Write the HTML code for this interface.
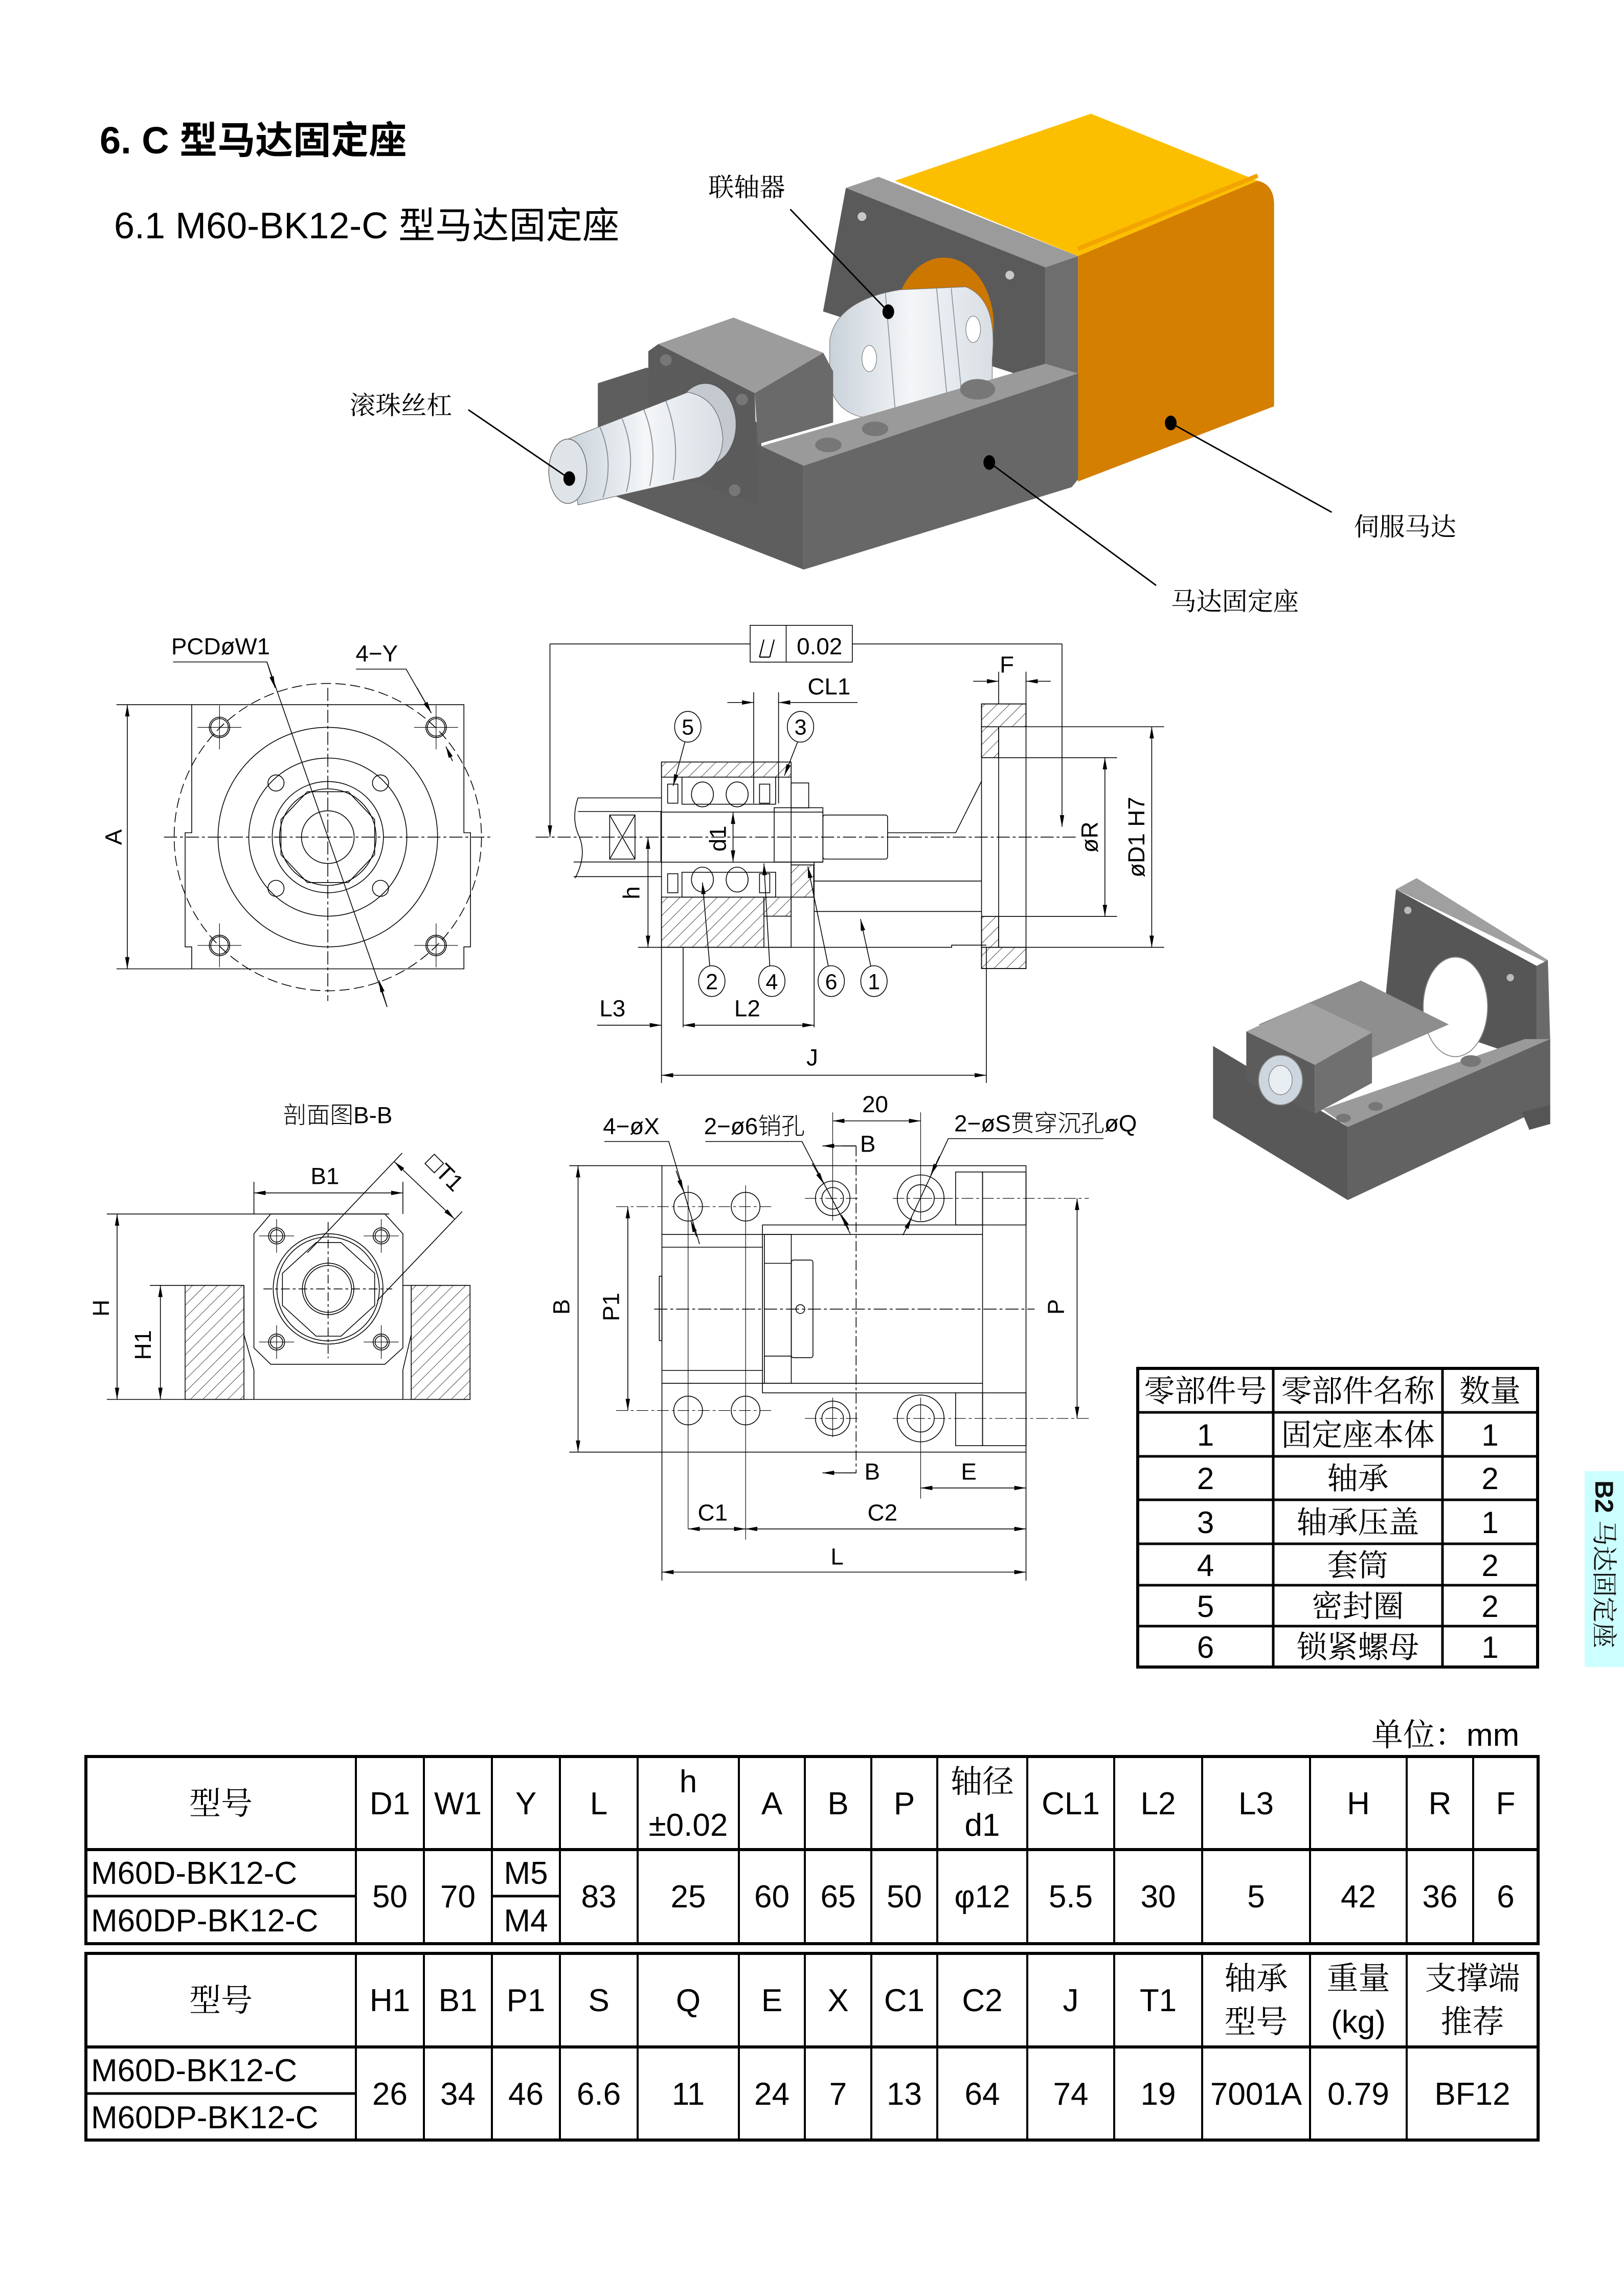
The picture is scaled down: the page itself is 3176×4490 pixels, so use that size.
<!DOCTYPE html>
<html><head><meta charset="utf-8"><style>
html,body{margin:0;padding:0;background:#fff}
svg{display:block}
.t{font-family:"Liberation Sans","Noto Sans CJK SC",sans-serif}
.c{font-family:"Liberation Sans","Noto Serif CJK SC",serif}
.d{font-family:"Liberation Sans Narrow","Liberation Sans","Noto Sans CJK SC",sans-serif;font-weight:300}
</style></head><body>
<svg width="3176" height="4490" viewBox="0 0 3176 4490" xmlns="http://www.w3.org/2000/svg">
<defs>
<marker id="a" markerWidth="8" markerHeight="3" refX="8" refY="1.5" orient="auto-start-reverse" markerUnits="userSpaceOnUse"><path d="M0,0 L8,1.5 L0,3 z" fill="#000"/></marker>
<pattern id="h" width="6" height="6" patternUnits="userSpaceOnUse" patternTransform="rotate(45)"><line x1="0" y1="0" x2="0" y2="6" stroke="#000" stroke-width="0.5"/></pattern>
<linearGradient id="sil" x1="0" y1="0" x2="1" y2="0"><stop offset="0" stop-color="#c9d2da"/><stop offset="0.5" stop-color="#f4f6f8"/><stop offset="1" stop-color="#d8dee4"/></linearGradient>
</defs>

<!-- Titles -->
<text x="195" y="300" class="t" font-size="74" font-weight="bold">6. C 型马达固定座</text>
<text x="223" y="466" class="t" font-size="72">6.1 M60-BK12-C 型马达固定座</text>

<g transform="scale(2.862)">
<!-- ===== Top 3D assembly ===== -->
<polygon points="611.5,123.5 745.5,77.7 859.4,123.5 736.6,175" fill="#fcbf00"/>
<path d="M736.6,175 L859.4,123.5 Q870.6,126 870.6,140 L870.6,277.6 L736.6,329 Z" fill="#d47f00"/>
<path d="M736.6,170 L859.4,120" stroke="#f2a400" stroke-width="3" fill="none"/>
<polygon points="578,128.4 600.4,120.8 736.6,175 714.3,182.7" fill="#9b9b9b"/>
<polygon points="714.3,182.7 736.6,175 736.6,258 714.3,262" fill="#6e6e6e"/>
<polygon points="578,128.4 714.3,182.7 714.3,262 562.4,212.8" fill="#5a5a5a"/>
<ellipse cx="645" cy="222" rx="34" ry="46" fill="#cc7700"/>
<circle cx="589" cy="148" r="3" fill="#c8c8c8"/><circle cx="690" cy="188" r="3" fill="#c8c8c8"/>
<path d="M567,232 Q572,205 615,198 L660,196 Q682,205 678,245 L678,272 L612,286 Q572,290 567,262 Z" fill="url(#sil)" stroke="#777" stroke-width="0.4"/>
<path d="M605,200 L612,284 M640,197 L648,280 M650,197 L658,278" stroke="#8a959e" stroke-width="0.6" fill="none"/>
<ellipse cx="594" cy="245" rx="5" ry="9" fill="#fff" stroke="#777" stroke-width="0.4"/>
<ellipse cx="665" cy="225" rx="5" ry="9" fill="#fff" stroke="#777" stroke-width="0.4"/>
<!-- base -->
<polygon points="408.5,261.9 442,251.2 520.2,290 520.2,304.8 549.2,318.2 549.2,389.2 421.9,339.6 408.5,334.2" fill="#5e5e5e"/>
<polygon points="520.2,304.8 714.4,248.5 736.7,255.2 549.2,318.2" fill="#9a9a9a"/>
<polygon points="549.2,318.2 736.7,255.2 736.7,327.5 732.3,332.9 549.2,389.2" fill="#676767"/>
<ellipse cx="566" cy="304" rx="9" ry="5" fill="#777"/><ellipse cx="598" cy="293" rx="9" ry="5" fill="#777"/><ellipse cx="668" cy="266" rx="12" ry="7" fill="#777"/>
<!-- support block -->
<polygon points="449.8,235.1 501.2,217 562.6,241.1 515.7,268.6" fill="#9c9c9c"/>
<polygon points="515.7,268.6 562.6,241.1 569.3,253.8 569.3,288.7 518,303.4" fill="#6a6a6a"/>
<polygon points="443,240 449.8,235.1 515.7,268.6 518,345 443,318" fill="#5b5b5b"/>
<circle cx="455" cy="246" r="4" fill="#777"/><circle cx="507" cy="273" r="4" fill="#777"/><circle cx="502" cy="335" r="4" fill="#777"/>
<ellipse cx="482" cy="290" rx="21" ry="28" fill="#c3c9cf" stroke="#555" stroke-width="0.5"/>
<!-- screw -->
<path d="M388,300 L470,268 Q492,272 494,300 Q493,318 478,326 L395,345 Z" fill="url(#sil)" stroke="#666" stroke-width="0.4"/>
<path d="M410,292 Q420,315 412,340 M425,286 Q435,310 428,336 M440,280 Q450,305 444,332 M455,274 Q465,300 460,328" stroke="#8a959e" stroke-width="0.7" fill="none"/>
<ellipse cx="388" cy="322" rx="13" ry="22" fill="#dfe4e8" stroke="#666" stroke-width="0.5"/>
<!-- leaders -->
<g stroke="#000" stroke-width="1" fill="none">
<line x1="540" y1="143" x2="607" y2="213"/><line x1="320" y1="280" x2="389" y2="327"/>
<line x1="800" y1="289" x2="910" y2="350"/><line x1="676" y1="316" x2="790" y2="400"/>
</g>
<g fill="#000"><ellipse cx="607" cy="213" rx="4" ry="5"/><ellipse cx="389" cy="327" rx="4" ry="5"/><ellipse cx="800" cy="289" rx="4" ry="5"/><ellipse cx="676" cy="316" rx="4" ry="5"/></g>
<g class="c" font-size="17.5">
<text x="484" y="134">联轴器</text><text x="239" y="283">滚珠丝杠</text>
<text x="925" y="366">伺服马达</text><text x="800" y="417">马达固定座</text>
</g>

<!-- ===== small 3D ===== -->
<polygon points="953.9,607.7 968,600 1057.7,656 1057,657.8" fill="#a0a0a0"/>
<polygon points="1050,660 1057.7,656 1059.3,712 1050,716" fill="#6a6a6a"/>
<polygon points="953.9,607.7 1050,660 1050,716 1033.5,720 975,700 945,700" fill="#565656"/>
<ellipse cx="994.5" cy="688" rx="22" ry="34" fill="#fff" stroke="#888" stroke-width="0.6"/>
<circle cx="962" cy="622" r="2.5" fill="#bbb"/><circle cx="1032" cy="668" r="2.5" fill="#bbb"/>
<polygon points="860,700 930,670 990,700 921,730" fill="#8e8e8e"/>
<polygon points="903.9,758 1042,710 1059.3,710 921,770" fill="#9a9a9a"/>
<polygon points="828.9,714.7 921,770 921,820 828.9,764" fill="#585858"/>
<polygon points="921,770 1059.3,710 1059.3,755 921,820" fill="#626262"/>
<polygon points="1040,760 1059.3,755 1059.3,768 1045,772" fill="#555"/>
<polygon points="851.6,704.8 894.5,685 937.5,705.6 898.4,727.6" fill="#a2a2a2"/>
<polygon points="898.4,727.6 937.5,705.6 937.5,740 898.4,761" fill="#707070"/>
<polygon points="851.6,704.8 898.4,727.6 898.4,761 851.6,739" fill="#5c5c5c"/>
<ellipse cx="875" cy="738" rx="15" ry="17" fill="#cdd6de" stroke="#888" stroke-width="0.6"/>
<ellipse cx="875" cy="738" rx="8" ry="10" fill="#e8eef2" stroke="#888" stroke-width="0.5"/>
<ellipse cx="918" cy="764" rx="5" ry="3" fill="#777"/><ellipse cx="940" cy="756" rx="5" ry="3" fill="#777"/><ellipse cx="1005" cy="725" rx="7" ry="4" fill="#777"/>

<!-- ===== Drawings ===== -->
<g stroke="#000" stroke-width="0.55" fill="none">
<!-- front view -->
<path d="M131,481.5 H317 V569 H321.5 V647 H317 V662 H131 V647 H126.5 V569 H131 Z"/>
<line x1="112" y1="572" x2="336" y2="572" stroke-dasharray="9,2,2,2"/>
<line x1="224" y1="470" x2="224" y2="684" stroke-dasharray="9,2,2,2"/>
<circle cx="224" cy="572" r="105" stroke-dasharray="7,3"/>
<circle cx="224" cy="572" r="75"/><circle cx="224" cy="572" r="54"/>
<circle cx="224" cy="572" r="38"/><circle cx="224" cy="572" r="33"/>
<polygon points="210,541 238,541 256,560 256,584 238,603 210,603 192,584 192,560"/>
<circle cx="224" cy="572" r="18"/>
<circle cx="188.6" cy="535" r="5.5"/><circle cx="260" cy="535" r="5.5"/><circle cx="188.6" cy="607" r="5.5"/><circle cx="260" cy="607" r="5.5"/>
<g id="hl"><circle cx="150" cy="497" r="7"/><circle cx="150" cy="497" r="6"/><path d="M135,497 H165 M150,482 V512" stroke-width="0.4"/></g>
<use href="#hl" x="148"/><use href="#hl" y="149"/><use href="#hl" x="148" y="149"/>
<path d="M79.6,481.5 H131 M79.6,662 H131"/>
<line x1="87" y1="481.5" x2="87" y2="662" marker-start="url(#a)" marker-end="url(#a)"/>
<path d="M118.3,452.3 H182.4 L264.5,688"/>
<line x1="182.4" y1="452.3" x2="188" y2="470" marker-end="url(#a)"/>
<line x1="264.5" y1="688" x2="259" y2="670" marker-end="url(#a)"/>
<path d="M243.3,457.2 H277.5 L294.7,487.2"/>
<line x1="285" y1="470" x2="294.7" y2="487.2" marker-end="url(#a)"/>
<line x1="309.2" y1="520" x2="304.7" y2="510" marker-end="url(#a)"/>

<!-- section view -->
<rect x="512.6" y="427.3" width="69.8" height="25.1"/><line x1="537.2" y1="427.3" x2="537.2" y2="452.4"/>
<path d="M519,449 L522,437 M526,449 L529,437 M519,449 H526" stroke-width="0.8"/>
<path d="M512.6,440 H375.8"/><line x1="375.8" y1="440" x2="375.8" y2="572" marker-end="url(#a)"/>
<path d="M582.4,440 H725.7"/><line x1="725.7" y1="440" x2="725.7" y2="565" marker-end="url(#a)"/>
<line x1="366" y1="572" x2="736" y2="572" stroke-dasharray="9,2,2,2"/>
<rect x="670.7" y="481" width="30.4" height="180.8"/>
<line x1="682.4" y1="496.6" x2="682.4" y2="647.3"/>
<path d="M682.4,496.6 H795.5 M670.7,517.7 H763.3 M670.7,626.2 H763.3 M682.4,647.3 H795.5"/>
<rect x="670.7" y="481" width="30.4" height="15.6" fill="url(#h)"/>
<rect x="670.7" y="496.6" width="11.7" height="21.1" fill="url(#h)"/>
<rect x="670.7" y="626.2" width="11.7" height="21.1" fill="url(#h)"/>
<rect x="670.7" y="647.3" width="30.4" height="14.5" fill="url(#h)"/>
<rect x="452" y="520.7" width="88.6" height="10.3" fill="url(#h)"/>
<rect x="452" y="613" width="70" height="34.3" fill="url(#h)"/>
<rect x="522" y="613" width="18.6" height="13" fill="url(#h)"/>
<rect x="452" y="520.7" width="88.6" height="126.6"/>
<rect x="466" y="531" width="64" height="18.5"/><rect x="466" y="596" width="64" height="17"/>
<ellipse cx="480" cy="542.8" rx="7.5" ry="8.5"/><ellipse cx="503.7" cy="542.8" rx="7.5" ry="8.5"/>
<ellipse cx="480" cy="601" rx="7.5" ry="8.5"/><ellipse cx="503.7" cy="601" rx="7.5" ry="8.5"/>
<rect x="456.2" y="535.8" width="7" height="13"/><rect x="456.2" y="597" width="7" height="13"/>
<rect x="519" y="535.8" width="7" height="13"/><rect x="519" y="597" width="7" height="13"/>
<rect x="540.6" y="535" width="12" height="17"/>
<rect x="451.6" y="554.9" width="110.7" height="34.2"/>
<rect x="529" y="551.9" width="33.3" height="37.1"/>
<path d="M540.6,591 H556 V613 H540.6 Z" fill="url(#h)"/>
<rect x="562.3" y="556.9" width="44.2" height="30.1" rx="1.5"/>
<path d="M395,545.2 H452 M395,554.5 H452 M392,589 H452 M392,599 H452" />
<path d="M395,545 Q390,560 396,572 Q401,585 393,600"/>
<rect x="416.6" y="556.9" width="17.3" height="30.1"/><path d="M416.6,556.9 L433.9,587 M433.9,556.9 L416.6,587"/>
<path d="M606.5,569 H653 L670.7,533.8"/>
<path d="M556.3,602 H670.7 M556.3,622.8 H670.7"/>
<path d="M436,647.3 H650.3 V645.8 H674"/>
<path d="M452,647.3 V740 M466.8,647.3 V702 M556.3,589 V702 M674,647.3 V740"/>
<path d="M515,473 V549 M532,473 V549"/>
<line x1="497" y1="480" x2="515" y2="480" marker-end="url(#a)"/><line x1="550" y1="480" x2="532" y2="480" marker-end="url(#a)"/><line x1="532" y1="480" x2="586" y2="480"/>
<path d="M682.4,459 V481 M701.1,459 V481"/>
<line x1="665" y1="465.5" x2="682.4" y2="465.5" marker-end="url(#a)"/><line x1="718" y1="465.5" x2="701.1" y2="465.5" marker-end="url(#a)"/>
<line x1="755" y1="517.7" x2="755" y2="626.2" marker-start="url(#a)" marker-end="url(#a)"/>
<line x1="787" y1="496.6" x2="787" y2="647.3" marker-start="url(#a)" marker-end="url(#a)"/>
<line x1="442.8" y1="572" x2="442.8" y2="647.3" marker-start="url(#a)" marker-end="url(#a)"/>
<line x1="500.9" y1="555" x2="500.9" y2="589" marker-start="url(#a)" marker-end="url(#a)"/>
<ellipse cx="470" cy="496.6" rx="9" ry="10.5"/><ellipse cx="547" cy="496.6" rx="9" ry="10.5"/>
<ellipse cx="486.4" cy="670.4" rx="9" ry="10.5"/><ellipse cx="527.4" cy="670.4" rx="9" ry="10.5"/>
<ellipse cx="568" cy="670.4" rx="9" ry="10.5"/><ellipse cx="597.2" cy="670.4" rx="9" ry="10.5"/>
<line x1="468" y1="507" x2="460" y2="537" marker-end="url(#a)"/>
<line x1="545" y1="507" x2="536" y2="530" marker-end="url(#a)"/>
<line x1="485" y1="660" x2="480" y2="603" marker-end="url(#a)"/>
<line x1="526" y1="660" x2="522" y2="590" marker-end="url(#a)"/>
<line x1="566" y1="660" x2="552" y2="592" marker-end="url(#a)"/>
<line x1="595" y1="660" x2="588" y2="628" marker-end="url(#a)"/>
<line x1="408" y1="700.5" x2="452" y2="700.5" marker-end="url(#a)"/>
<line x1="466.8" y1="700.5" x2="556.3" y2="700.5" marker-start="url(#a)" marker-end="url(#a)"/>
<line x1="452" y1="734.7" x2="674" y2="734.7" marker-start="url(#a)" marker-end="url(#a)"/>

<!-- section B-B -->
<path d="M73,829.5 H266 M73,956.2 H321.2 M102.4,878.3 H166.7 M275.3,878.3 H321.2"/>
<rect x="126.5" y="878.3" width="40.2" height="77.9" fill="url(#h)"/>
<rect x="281" y="878.3" width="40.2" height="77.9" fill="url(#h)"/>
<path d="M166.7,878.3 V912 L173.5,936 V956.2 M281,878.3 V912 L275.3,936 V956.2"/>
<polygon points="185,829.5 263,829.5 275.3,843 275.3,921 263,932.2 185,932.2 173.5,921 173.5,843"/>
<ellipse cx="224.2" cy="880.7" rx="37.5" ry="37.7"/><ellipse cx="224.2" cy="880.7" rx="35" ry="35.5"/>
<polygon points="216,849 233,849 256,870 256,892 233,913 216,913 193,892 193,870"/>
<circle cx="224.2" cy="880.7" r="17.6"/><circle cx="224.2" cy="880.7" r="16"/>
<path d="M180,880.7 H268 M224.2,835 V928" stroke-dasharray="6,2,2,2"/>
<g id="bb"><circle cx="189" cy="844.5" r="5.5"/><circle cx="189" cy="844.5" r="4.2"/><path d="M177,844.5 H201 M189,833 V856" stroke-width="0.4"/></g>
<use href="#bb" x="71.5"/><use href="#bb" y="72.5"/><use href="#bb" x="71.5" y="72.5"/>
<path d="M173.5,807.5 V829.5 M275.3,807.5 V829.5"/>
<line x1="173.5" y1="815.1" x2="275.3" y2="815.1" marker-start="url(#a)" marker-end="url(#a)"/>
<path d="M274.8,787.9 L210,856 M315.8,827.8 L257.8,888.7"/>
<line x1="269.4" y1="793.7" x2="310.5" y2="832.8" marker-start="url(#a)" marker-end="url(#a)"/>
<line x1="80" y1="829.5" x2="80" y2="956.2" marker-start="url(#a)" marker-end="url(#a)"/>
<line x1="109.6" y1="878.3" x2="109.6" y2="956.2" marker-start="url(#a)" marker-end="url(#a)"/>

<!-- top view bottom -->
<path d="M389,796.5 H452.3 M389,992.2 H452.3"/>
<rect x="452.3" y="796.5" width="248.8" height="195.7"/>
<rect x="521" y="837" width="150.4" height="114.7"/>
<path d="M452.3,843.5 H671.4 M452.3,945.2 H671.4 M452.3,852.2 H521 M452.3,936.4 H521"/>
<rect x="450.5" y="872" width="1.8" height="44"/>
<rect x="522.3" y="843.5" width="18.4" height="101.7"/><path d="M522.3,863.2 H540.7 M522.3,926.6 H540.7"/>
<rect x="540.7" y="861" width="14.8" height="66.7" rx="1.5"/>
<circle cx="546.9" cy="894.5" r="3"/>
<rect x="653" y="800.8" width="18.4" height="36.2"/><rect x="671.4" y="800.8" width="29.7" height="36.2"/>
<rect x="653" y="951.7" width="18.4" height="36.1"/><rect x="671.4" y="951.7" width="29.7" height="36.1"/>
<line x1="447" y1="894.5" x2="707" y2="894.5" stroke-dasharray="9,2,2,2"/>
<circle cx="470.2" cy="824.5" r="9.8"/><circle cx="509.5" cy="824.5" r="9.8"/>
<circle cx="470.2" cy="963.8" r="9.8"/><circle cx="509.5" cy="963.8" r="9.8"/>
<circle cx="569" cy="818.8" r="11.8"/><circle cx="569" cy="818.8" r="7.4"/>
<circle cx="569" cy="969.2" r="11.8"/><circle cx="569" cy="969.2" r="7.4"/>
<circle cx="629.1" cy="818.8" r="16"/><circle cx="629.1" cy="818.8" r="9.3"/>
<circle cx="629.1" cy="969.2" r="16"/><circle cx="629.1" cy="969.2" r="9.3"/>
<path d="M421,824.5 H527 M421,963.8 H527 M550,818.8 H588 M610,818.8 H650 M550,969.2 H588 M610,969.2 H744 M629.1,818.8 H744" stroke-width="0.4" stroke-dasharray="8,2,2,2"/>
<path d="M470.2,810 V1044.7 M509.5,810 V1052 M569,760 V834 M569,955 V982 M629.1,760 V834 M629.1,955 V1024" stroke-width="0.4"/>
<line x1="585" y1="783" x2="585" y2="1006.4" stroke-dasharray="7,2,2,2"/>
<path d="M585,783 H575 M585,1006.4 H575"/>
<line x1="585" y1="783" x2="562" y2="783" marker-end="url(#a)"/>
<line x1="585" y1="1006.4" x2="562" y2="1006.4" marker-end="url(#a)"/>
<line x1="395" y1="796.5" x2="395" y2="992.2" marker-start="url(#a)" marker-end="url(#a)"/>
<line x1="429" y1="824.5" x2="429" y2="963.8" marker-start="url(#a)" marker-end="url(#a)"/>
<line x1="736" y1="818.8" x2="736" y2="969.2" marker-start="url(#a)" marker-end="url(#a)"/>
<line x1="569" y1="765.9" x2="629.1" y2="765.9" marker-start="url(#a)" marker-end="url(#a)"/>
<line x1="629.1" y1="1016.7" x2="701.1" y2="1016.7" marker-start="url(#a)" marker-end="url(#a)"/>
<line x1="470.2" y1="1044.7" x2="509.5" y2="1044.7" marker-start="url(#a)" marker-end="url(#a)"/>
<line x1="509.5" y1="1044.7" x2="701.1" y2="1044.7" marker-start="url(#a)" marker-end="url(#a)"/>
<line x1="452.3" y1="1074.2" x2="701.1" y2="1074.2" marker-start="url(#a)" marker-end="url(#a)"/>
<path d="M701.1,992.2 V1080 M452.3,992.2 V1080"/>
<path d="M413,780 H457 L478,850"/><line x1="462" y1="800" x2="467" y2="814" marker-end="url(#a)"/><line x1="476" y1="845" x2="472" y2="834" marker-end="url(#a)"/>
<path d="M482,780 H548 L581,843"/><line x1="555" y1="795" x2="563" y2="809" marker-end="url(#a)"/><line x1="580" y1="840" x2="575" y2="830" marker-end="url(#a)"/>
<path d="M754,778 H648 L617,844"/><line x1="642" y1="790" x2="636" y2="803" marker-end="url(#a)"/><line x1="618" y1="842" x2="623" y2="832" marker-end="url(#a)"/>
</g>

<!-- drawing text -->
<g class="d" font-size="16" fill="#000">
<text x="117" y="447">PCDøW1</text><text x="243" y="452">4−Y</text>
<text x="78" y="572" transform="rotate(-90 78 572)" text-anchor="middle" dy="5">A</text>
<text x="560" y="447" text-anchor="middle">0.02</text>
<text x="566.5" y="474.5" text-anchor="middle">CL1</text>
<text x="688" y="459.5" text-anchor="middle">F</text>
<text x="745" y="572" transform="rotate(-90 745 572)" text-anchor="middle" dy="5">øR</text>
<text x="777" y="572" transform="rotate(-90 777 572)" text-anchor="middle" dy="5">øD1 H7</text>
<text x="432" y="610" transform="rotate(-90 432 610)" text-anchor="middle" dy="5">h</text>
<text x="491" y="573" transform="rotate(-90 491 573)" text-anchor="middle" dy="5">d1</text>
<g text-anchor="middle" font-size="15"><text x="470" y="502">5</text><text x="547" y="502">3</text><text x="486.4" y="676">2</text><text x="527.4" y="676">4</text><text x="568" y="676">6</text><text x="597.2" y="676">1</text></g>
<text x="418.5" y="694.5" text-anchor="middle">L3</text><text x="510.6" y="694.5" text-anchor="middle">L2</text>
<text x="555" y="728" text-anchor="middle">J</text>
<text x="193.5" y="767.5">剖面图B-B</text>
<text x="222" y="809" text-anchor="middle">B1</text>
<text x="300" y="805" transform="rotate(45 300 805)" text-anchor="middle">□T1</text>
<text x="69.4" y="893.8" transform="rotate(-90 69.4 893.8)" text-anchor="middle" dy="5">H</text>
<text x="98" y="919" transform="rotate(-90 98 919)" text-anchor="middle" dy="5">H1</text>
<text x="412" y="775">4−øX</text><text x="481" y="775">2−ø6销孔</text><text x="652" y="773">2−øS贯穿沉孔øQ</text>
<text x="598" y="760" text-anchor="middle">20</text>
<text x="593" y="787" text-anchor="middle">B</text><text x="596" y="1011" text-anchor="middle">B</text>
<text x="384" y="893" transform="rotate(-90 384 893)" text-anchor="middle" dy="5">B</text>
<text x="418" y="893" transform="rotate(-90 418 893)" text-anchor="middle" dy="5">P1</text>
<text x="722" y="893" transform="rotate(-90 722 893)" text-anchor="middle" dy="5">P</text>
<text x="662" y="1011" text-anchor="middle">E</text>
<text x="487" y="1039" text-anchor="middle">C1</text><text x="603" y="1039" text-anchor="middle">C2</text>
<text x="572" y="1069" text-anchor="middle">L</text>
</g>
</g>

<!-- ===== Parts table ===== -->
<g stroke="#000" fill="none">
<rect x="2225" y="2676" width="782" height="584" stroke-width="6"/>
<path d="M2490,2676 V3260 M2821,2676 V3260" stroke-width="5"/>
<path d="M2225,2762 H3007 M2225,2848 H3007 M2225,2933 H3007 M2225,3019 H3007 M2225,3100 H3007 M2225,3180 H3007" stroke-width="5"/>
</g>
<g class="c" font-size="60" text-anchor="middle">
<text x="2357.5" y="2741">零部件号</text><text x="2655.5" y="2741">零部件名称</text><text x="2914" y="2741">数量</text>
<text x="2357.5" y="2827">1</text><text x="2655.5" y="2827">固定座本体</text><text x="2914" y="2827">1</text>
<text x="2357.5" y="2912">2</text><text x="2655.5" y="2912">轴承</text><text x="2914" y="2912">2</text>
<text x="2357.5" y="2998">3</text><text x="2655.5" y="2998">轴承压盖</text><text x="2914" y="2998">1</text>
<text x="2357.5" y="3082">4</text><text x="2655.5" y="3082">套筒</text><text x="2914" y="3082">2</text>
<text x="2357.5" y="3162">5</text><text x="2655.5" y="3162">密封圈</text><text x="2914" y="3162">2</text>
<text x="2357.5" y="3242">6</text><text x="2655.5" y="3242">锁紧螺母</text><text x="2914" y="3242">1</text>
</g>
<!-- side tab -->
<rect x="3099" y="2877" width="77" height="383" fill="#ccffff"/>
<text x="3120" y="2895" class="c" font-size="50" transform="rotate(90 3120 2895)" fill="#111"><tspan font-weight="bold">B2</tspan> 马达固定座</text>

<text x="2682" y="3414" class="c" font-size="62">单位：mm</text>

<!-- ===== Table 1 ===== -->
<g stroke="#000" fill="none">
<rect x="168" y="3435" width="2840" height="366" stroke-width="6"/>
<line x1="168" y1="3617" x2="3008" y2="3617" stroke-width="6"/>
<path d="M168,3708 H696 M962,3708 H1095" stroke-width="5"/>
<path d="M696,3435V3801 M829,3435V3801 M962,3435V3801 M1095,3435V3801 M1247,3435V3801 M1445,3435V3801 M1574,3435V3801 M1704,3435V3801 M1833,3435V3801 M2009,3435V3801 M2179,3435V3801 M2351,3435V3801 M2562,3435V3801 M2751,3435V3801 M2881,3435V3801" stroke-width="4"/>
<rect x="168" y="3820" width="2840" height="365" stroke-width="6"/>
<line x1="168" y1="4003" x2="3008" y2="4003" stroke-width="6"/>
<path d="M168,4094 H696" stroke-width="5"/>
<path d="M696,3820V4185 M829,3820V4185 M962,3820V4185 M1095,3820V4185 M1247,3820V4185 M1445,3820V4185 M1574,3820V4185 M1704,3820V4185 M1833,3820V4185 M2009,3820V4185 M2179,3820V4185 M2351,3820V4185 M2562,3820V4185 M2751,3820V4185" stroke-width="4"/>
</g>
<g class="c" font-size="62" text-anchor="middle">
<text x="432" y="3548">型号</text><text x="762.5" y="3548">D1</text><text x="895.5" y="3548">W1</text><text x="1028.5" y="3548">Y</text><text x="1171" y="3548">L</text>
<text x="1346" y="3505">h</text><text x="1346" y="3590">±0.02</text>
<text x="1509.5" y="3548">A</text><text x="1639" y="3548">B</text><text x="1768.5" y="3548">P</text>
<text x="1921" y="3505">轴径</text><text x="1921" y="3590">d1</text>
<text x="2094" y="3548">CL1</text><text x="2265" y="3548">L2</text><text x="2456.5" y="3548">L3</text><text x="2656.5" y="3548">H</text><text x="2816" y="3548">R</text><text x="2944.5" y="3548">F</text>
<text x="762.5" y="3730">50</text><text x="895.5" y="3730">70</text>
<text x="1028.5" y="3684">M5</text><text x="1028.5" y="3777">M4</text>
<text x="1171" y="3730">83</text><text x="1346" y="3730">25</text><text x="1509.5" y="3730">60</text><text x="1639" y="3730">65</text><text x="1768.5" y="3730">50</text>
<text x="1921" y="3730">φ12</text><text x="2094" y="3730">5.5</text><text x="2265" y="3730">30</text><text x="2456.5" y="3730">5</text><text x="2656.5" y="3730">42</text><text x="2816" y="3730">36</text><text x="2944.5" y="3730">6</text>

<text x="432" y="3933">型号</text><text x="762.5" y="3933">H1</text><text x="895.5" y="3933">B1</text><text x="1028.5" y="3933">P1</text><text x="1171" y="3933">S</text>
<text x="1346" y="3933">Q</text><text x="1509.5" y="3933">E</text><text x="1639" y="3933">X</text><text x="1768.5" y="3933">C1</text><text x="1921" y="3933">C2</text>
<text x="2094" y="3933">J</text><text x="2265" y="3933">T1</text>
<text x="2456.5" y="3890">轴承</text><text x="2456.5" y="3975">型号</text>
<text x="2656.5" y="3890">重量</text><text x="2656.5" y="3975">(kg)</text>
<text x="2879.5" y="3890">支撑端</text><text x="2879.5" y="3975">推荐</text>
<text x="762.5" y="4116">26</text><text x="895.5" y="4116">34</text><text x="1028.5" y="4116">46</text><text x="1171" y="4116">6.6</text>
<text x="1346" y="4116">11</text><text x="1509.5" y="4116">24</text><text x="1639" y="4116">7</text><text x="1768.5" y="4116">13</text><text x="1921" y="4116">64</text>
<text x="2094" y="4116">74</text><text x="2265" y="4116">19</text><text x="2456.5" y="4116">7001A</text><text x="2656.5" y="4116">0.79</text><text x="2879.5" y="4116">BF12</text>
</g>
<g class="t" font-size="62">
<text x="178" y="3684">M60D-BK12-C</text><text x="178" y="3777">M60DP-BK12-C</text>
<text x="178" y="4070">M60D-BK12-C</text><text x="178" y="4162">M60DP-BK12-C</text>
</g>
</svg>
</body></html>
